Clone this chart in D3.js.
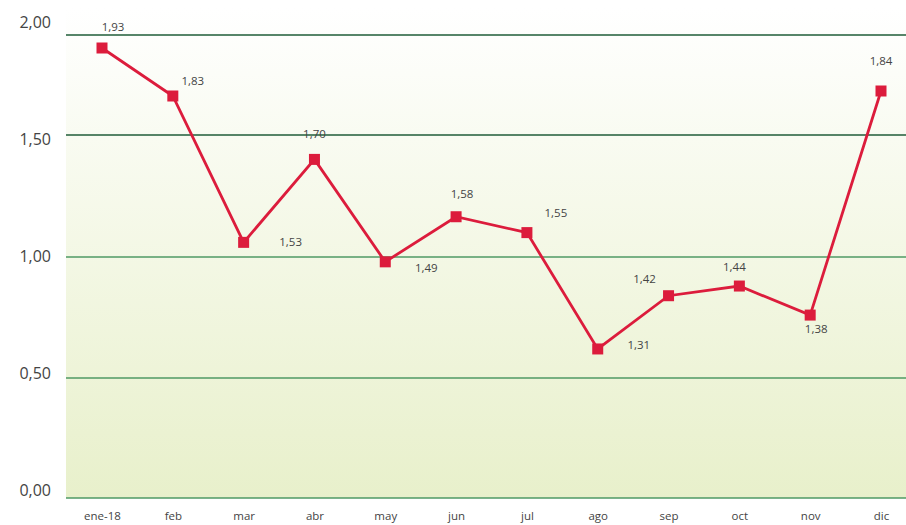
<!DOCTYPE html>
<html>
<head>
<meta charset="utf-8">
<script src="https://cdn.jsdelivr.net/npm/d3@7"></script>
<style>
  body { margin: 0; background: #fff; }
  svg { display: block; font-family: "Open Sans", sans-serif; }
</style>
</head>
<body>
<div id="chart"></div>
<script>
// data
const MONTHS = ["ene-18", "feb", "mar", "abr", "may", "jun", "jul", "ago", "sep", "oct", "nov", "dic"];
const VALUES = [1.935, 1.695, 1.06, 1.40, 0.98, 1.165, 1.10, 0.62, 0.84, 0.88, 0.76, 1.72];
const POINT_LABELS = ["1,93", "1,83", "1,53", "1,70", "1,49", "1,58", "1,55", "1,31", "1,42", "1,44", "1,38", "1,84"];
const Y_TICKS = [0, 0.5, 1, 1.5, 2];
const Y_TICK_LABELS = ["0,00", "0,50", "1,00", "1,50", "2,00"];

// label placement around each marker (layout only)
const LABEL_OFFSETS = [[11, -21], [20, -15], [47, 0], [0, -25], [41, 6], [6, -23],
    [29, -20], [41, -4], [-24, -17], [-5, -19], [6, 14], [0, -30]];

const FRAME_WIDTH = 906;
const FRAME_HEIGHT = 525;
const PLOT = { left: 66, right: 906, top: 8, bottom: 498 };

const FRAME = d3.select("#chart")
    .append("svg")
    .attr("width", FRAME_WIDTH)
    .attr("height", FRAME_HEIGHT);

// gradient background
const grad = FRAME.append("defs").append("linearGradient")
    .attr("id", "bg").attr("x1", 0).attr("y1", 0).attr("x2", 0).attr("y2", 1);
grad.append("stop").attr("offset", "0%").attr("stop-color", "#ffffff");
grad.append("stop").attr("offset", "100%").attr("stop-color", "#e8f0cb");

FRAME.append("rect")
    .attr("x", PLOT.left)
    .attr("y", PLOT.top)
    .attr("width", PLOT.right - PLOT.left)
    .attr("height", PLOT.bottom - PLOT.top)
    .attr("fill", "url(#bg)");

const X_SCALE = d3.scalePoint()
    .domain(MONTHS)
    .range([102, 881]);

// the grid in the original is not evenly spaced
const Y_SCALE = d3.scaleLinear()
    .domain(Y_TICKS)
    .range([498, 378, 257, 135, 35]);

// tick text sits on an even column of its own
const Y_LABEL_SCALE = d3.scaleLinear()
    .domain([0, 2])
    .range([490, 22]);

// gridlines
FRAME.append("g")
    .selectAll("line")
    .data(Y_TICKS)
    .enter()
    .append("line")
    .attr("x1", PLOT.left)
    .attr("x2", PLOT.right)
    .attr("y1", (d) => Y_SCALE(d))
    .attr("y2", (d) => Y_SCALE(d))
    .attr("stroke", (d) => d >= 1.5 ? "#1f5c38" : "#4f9a64")
    .attr("stroke-width", 1.4);

// y tick labels
FRAME.append("g")
    .selectAll("text")
    .data(Y_TICKS)
    .enter()
    .append("text")
    .attr("x", 51)
    .attr("y", (d) => Y_LABEL_SCALE(d))
    .attr("dy", "0.35em")
    .attr("text-anchor", "end")
    .attr("font-size", "16px")
    .attr("fill", "#444")
    .text((d, i) => Y_TICK_LABELS[i]);

// x axis labels
const xAxis = FRAME.append("g")
    .attr("transform", "translate(0," + PLOT.bottom + ")")
    .call(d3.axisBottom(X_SCALE).tickSize(0).tickPadding(14));
xAxis.select(".domain").remove();
xAxis.selectAll("text")
    .attr("font-family", "Open Sans, sans-serif")
    .attr("font-size", "11.5px")
    .attr("fill", "#444");

// the line
const line = d3.line()
    .x((d, i) => X_SCALE(MONTHS[i]))
    .y((d) => Y_SCALE(d));

FRAME.append("path")
    .datum(VALUES)
    .attr("d", line)
    .attr("fill", "none")
    .attr("stroke", "#dc1c3c")
    .attr("stroke-width", 2.8);

// square markers
FRAME.append("g")
    .selectAll("rect")
    .data(VALUES)
    .enter()
    .append("rect")
    .attr("x", (d, i) => X_SCALE(MONTHS[i]) - 5.5)
    .attr("y", (d) => Y_SCALE(d) - 5.5)
    .attr("width", 11)
    .attr("height", 11)
    .attr("fill", "#dc1c3c");

// value labels
FRAME.append("g")
    .selectAll("text")
    .data(VALUES)
    .enter()
    .append("text")
    .attr("x", (d, i) => X_SCALE(MONTHS[i]) + LABEL_OFFSETS[i][0])
    .attr("y", (d, i) => Y_SCALE(d) + LABEL_OFFSETS[i][1])
    .attr("dy", "0.35em")
    .attr("text-anchor", "middle")
    .attr("font-size", "11.5px")
    .attr("fill", "#444")
    .text((d, i) => POINT_LABELS[i]);
</script>
</body>
</html>
